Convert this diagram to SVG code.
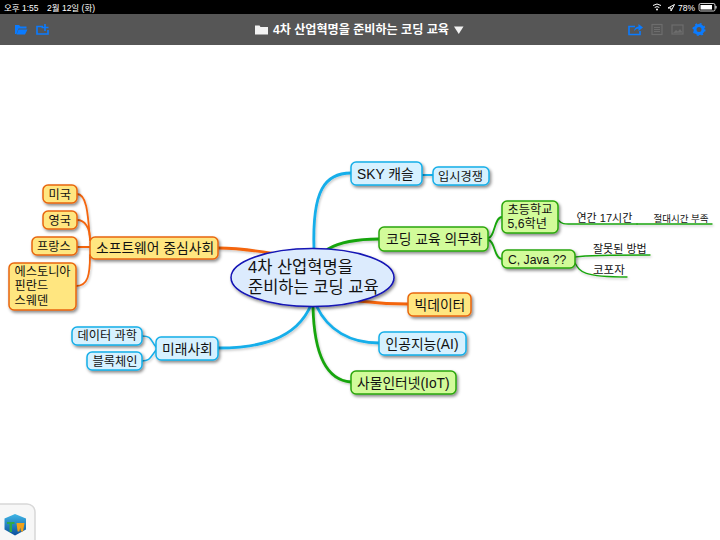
<svg xmlns="http://www.w3.org/2000/svg" width="720" height="540" viewBox="0 0 720 540">
<defs>
<style>
text{font-family:"Liberation Sans","Noto Sans CJK KR",sans-serif;fill:#111}
.ui{fill:#fff}
.t13{font-size:13.8px}.t12{font-size:12.2px}.t11{font-size:11px}
.o{fill:#ffe680;stroke:#e8660c;stroke-width:1.5}
.b{fill:#d6f1ff;stroke:#14aee8;stroke-width:1.5}
.g{fill:#d2fb9a;stroke:#2aa60a;stroke-width:1.5}
.c{fill:none;stroke-linecap:round}
.co{stroke:#f4650d}.cb{stroke:#14aeea}.cg{stroke:#17a50a}
.ic{fill:none;stroke:#0a7bff;stroke-width:1.6}
.dim{fill:none;stroke:#6d6d6d;stroke-width:1.2}
</style>
<filter id="s" x="-20%" y="-30%" width="140%" height="170%"><feDropShadow dx="1.5" dy="2" stdDeviation="1.5" flood-color="#000" flood-opacity=".45"/></filter>
<filter id="ls" x="-10%" y="-10%" width="120%" height="130%"><feDropShadow dx="1" dy="1.5" stdDeviation="1" flood-color="#000" flood-opacity=".22"/></filter>
<linearGradient id="cube" x1="0" y1="0" x2="0" y2="1"><stop offset="0" stop-color="#3fb6e6"/><stop offset="1" stop-color="#0c4f9c"/></linearGradient>
</defs>
<rect width="720" height="540" fill="#fff"/>
<g id="statusbar">
<rect width="720" height="14" fill="#000"/>
<text x="4" y="11" class="ui" font-size="8.5">오후 1:55</text>
<text x="47" y="11" class="ui" font-size="8.5">2월 12일 (화)</text>
<path d="M653 5.500q4-3 8 0M654.700 7.500q2.300-1.800 4.600 0" fill="none" stroke="#fff" stroke-width="1"/><circle cx="657" cy="9.500" r="1" fill="#fff"/>
<path d="M674.500 4.500l-6.500 3.500h3v3z" fill="none" stroke="#fff" stroke-width="1"/>
<text x="678" y="11" class="ui" font-size="8.500">78%</text>
<rect x="699" y="3.500" width="16" height="7.500" rx="1.500" fill="none" stroke="#fff" stroke-width=".8"/><rect x="700.500" y="5" width="11.500" height="4.500" fill="#fff"/><rect x="715.500" y="6" width="1" height="2.500" fill="#fff"/>
</g>
<g id="toolbar">
<rect y="14" width="720" height="31" fill="#565656"/>
<path d="M15 25h4l1.500 1.500h6v2h-8l-2 5.500h-1.500z" fill="#0a7bff"/><path d="M18.500 29.500h9l-2.500 5h-8.500z" fill="#0a7bff"/>
<path class="ic" d="M43 26.500h-6v7.500h11v-4"/><path class="ic" d="M45 24v7M41.500 27.500h7"/>
<path d="M255 25.500h4.500l1 1.500h7.500v7.500h-13z" fill="#f2f2f2"/>
<text x="273" y="34" class="ui" font-size="12.100" font-weight="700">4차 산업혁명을 준비하는 코딩 교육</text>
<path d="M454 26.500h9.500l-4.750 7.500z" fill="#f2f2f2"/>
<path class="ic" d="M635 26.500h-6v8h11v-3.500"/><path d="M634 31q.5-4 4.500-4.500v-2.500l4.500 3.500-4.500 3.500v-2.500q-2.500 0-4.500 2.500z" fill="#0a7bff"/>
<rect class="dim" x="652" y="24.500" width="10" height="10"/><path class="dim" d="M654 27.500h6M654 29.500h6M654 31.500h6"/>
<rect class="dim" x="672" y="25" width="11" height="9"/><path d="M673 33l3-3 2 1.500 2-2.500 2.500 3.500z" fill="#6d6d6d"/>
<circle cx="699" cy="29.500" r="4" fill="none" stroke="#0a7bff" stroke-width="3"/><circle cx="699" cy="29.500" r="5.800" fill="none" stroke="#0a7bff" stroke-width="1.500" stroke-dasharray="2 2.550"/>
</g>
<g id="connectors" filter="url(#ls)">
<path class="c co" stroke-width="2.800" d="M218 248C240 248 258 251 277 254"/>
<path class="c co" stroke-width="1.800" d="M77 194C87 194 88 215 90 240"/>
<path class="c co" stroke-width="1.800" d="M77 220C85 220 90 228 90 240"/>
<path class="c co" stroke-width="1.800" d="M90 247H77"/>
<path class="c co" stroke-width="1.800" d="M90 255C90 275 88 286 76 286"/>
<path class="c cb" stroke-width="2.800" d="M218 348C258 348 296 340 311 305"/>
<path class="c cb" stroke-width="1.500" d="M156 347C150 340 152 336 142 336"/>
<path class="c cb" stroke-width="1.500" d="M156 350C150 358 150 361 142 361"/>
<path class="c cb" stroke-width="2.800" d="M351 173C325 173 312 190 314 249"/>
<path class="c cb" stroke-width="1.800" d="M422 175H433"/>
<path class="c cg" stroke-width="2.800" d="M379 239C355 239 340 242 328 249"/>
<path class="c cg" stroke-width="1.800" d="M488 238C495 238 494 217 502 217"/>
<path class="c cg" stroke-width="1.800" d="M488 240C495 240 494 259 502 259"/>
<path class="c co" stroke-width="2.800" d="M408 304C390 304 375 303 358 301"/>
<path class="c cb" stroke-width="2.800" d="M379 343C350 343 328 330 317 307"/>
<path class="c cg" stroke-width="2.800" d="M351 382C325 380 314 350 313 307"/>
<path class="c cg" stroke-width="1.500" d="M558 220C563 225 565 224 574 224H637"/>
<path class="c cg" stroke-width="1.300" d="M637 224H712"/>
<path class="c cg" stroke-width="1.300" d="M575 257C582 256 585 255 650 255"/>
<path class="c cg" stroke-width="1.300" d="M575 263C580 272 583 277 627 277"/>
</g>
<g id="center"><ellipse cx="312.500" cy="277.500" rx="81.500" ry="29" fill="#dcebfd" stroke="#1212b4" stroke-width="1.500" filter="url(#s)"/>
<text x="248" y="273" font-size="16.500">4차 산업혁명을</text><text x="248" y="293" font-size="16.500">준비하는 코딩 교육</text></g>
<g id="n-software"><rect class="o" filter="url(#s)" x="90" y="237" width="128" height="22" rx="5"/><text x="96" y="253" class="t13">소프트웨어 중심사회</text></g>
<g id="n-usa"><rect class="o" filter="url(#s)" x="43" y="185" width="34" height="18" rx="5"/><text x="48.500" y="198.500" class="t12">미국</text></g>
<g id="n-uk"><rect class="o" filter="url(#s)" x="43" y="211" width="34" height="18" rx="5"/><text x="48.500" y="224.500" class="t12">영국</text></g>
<g id="n-france"><rect class="o" filter="url(#s)" x="32" y="237" width="45" height="18" rx="5"/><text x="37" y="250.500" class="t12">프랑스</text></g>
<g id="n-nordic"><rect class="o" filter="url(#s)" x="9" y="263" width="67" height="47" rx="5"/><text x="14.500" y="276" class="t12">에스토니아</text><text x="14.500" y="290" class="t12">핀란드</text><text x="14.500" y="304.500" class="t12">스웨덴</text></g>
<g id="n-future"><rect class="b" filter="url(#s)" x="156" y="337" width="62" height="23" rx="5"/><text x="162" y="353.500" class="t13">미래사회</text></g>
<g id="n-data"><rect class="b" filter="url(#s)" x="72" y="327" width="70" height="18" rx="5"/><text x="77.500" y="340" class="t12">데이터 과학</text></g>
<g id="n-block"><rect class="b" filter="url(#s)" x="87" y="352" width="55" height="18" rx="5"/><text x="92.500" y="365.500" class="t12">블록체인</text></g>
<g id="n-sky"><rect class="b" filter="url(#s)" x="351" y="162" width="71" height="23" rx="5"/><text x="357" y="178.500" class="t13">SKY 캐슬</text></g>
<g id="n-exam"><rect class="b" filter="url(#s)" x="433" y="167" width="56" height="18" rx="5"/><text x="438" y="180.500" class="t12">입시경쟁</text></g>
<g id="n-coding"><rect class="g" filter="url(#s)" x="379" y="227" width="109" height="24" rx="5"/><text x="386" y="243.500" class="t13">코딩 교육 의무화</text></g>
<g id="n-elem"><rect class="g" filter="url(#s)" x="502" y="201" width="56" height="32" rx="5"/><text x="507.500" y="214" class="t12">초등학교</text><text x="507.500" y="228" class="t12">5,6학년</text></g>
<g id="n-java"><rect class="g" filter="url(#s)" x="502" y="250" width="73" height="18" rx="5"/><text x="508" y="263.500" class="t12">C, Java ??</text></g>
<g id="n-17h"><text x="576.500" y="222" class="t11">연간 17시간</text></g>
<g id="n-lack"><text x="653.500" y="222" font-size="9.500">절대시간 부족</text></g>
<g id="n-wrong"><text x="593" y="253" class="t11">잘못된 방법</text></g>
<g id="n-kopo"><text x="593" y="274" font-size="11.500">코포자</text></g>
<g id="n-bigdata"><rect class="o" filter="url(#s)" x="408" y="293" width="63" height="23" rx="5"/><text x="414.500" y="309.500" class="t13">빅데이터</text></g>
<g id="n-ai"><rect class="b" filter="url(#s)" x="379" y="332" width="87" height="23" rx="5"/><text x="385.500" y="348.500" class="t13">인공지능(AI)</text></g>
<g id="n-iot"><rect class="g" filter="url(#s)" x="351" y="371" width="105" height="23" rx="5"/><text x="357" y="387.500" class="t13">사물인터넷(IoT)</text></g>
<g id="app-tile">
<rect x="-10" y="504" width="45" height="50" rx="8" fill="#f7f7f7" stroke="#d8d8d8" stroke-width="1.500"/>
<path d="M15 514l11 4.500v11l-11 6-10.500-6v-11z" fill="url(#cube)"/>
<path d="M7 522h7.500v2h-2.500v8h-2.500v-8h-2.500z" fill="#2fa84a"/><path d="M16.500 523h8l-1.500 8.500h-2l-.8-4-.8 4h-1.800z" fill="#f1a11a"/>
</g>
</svg>
